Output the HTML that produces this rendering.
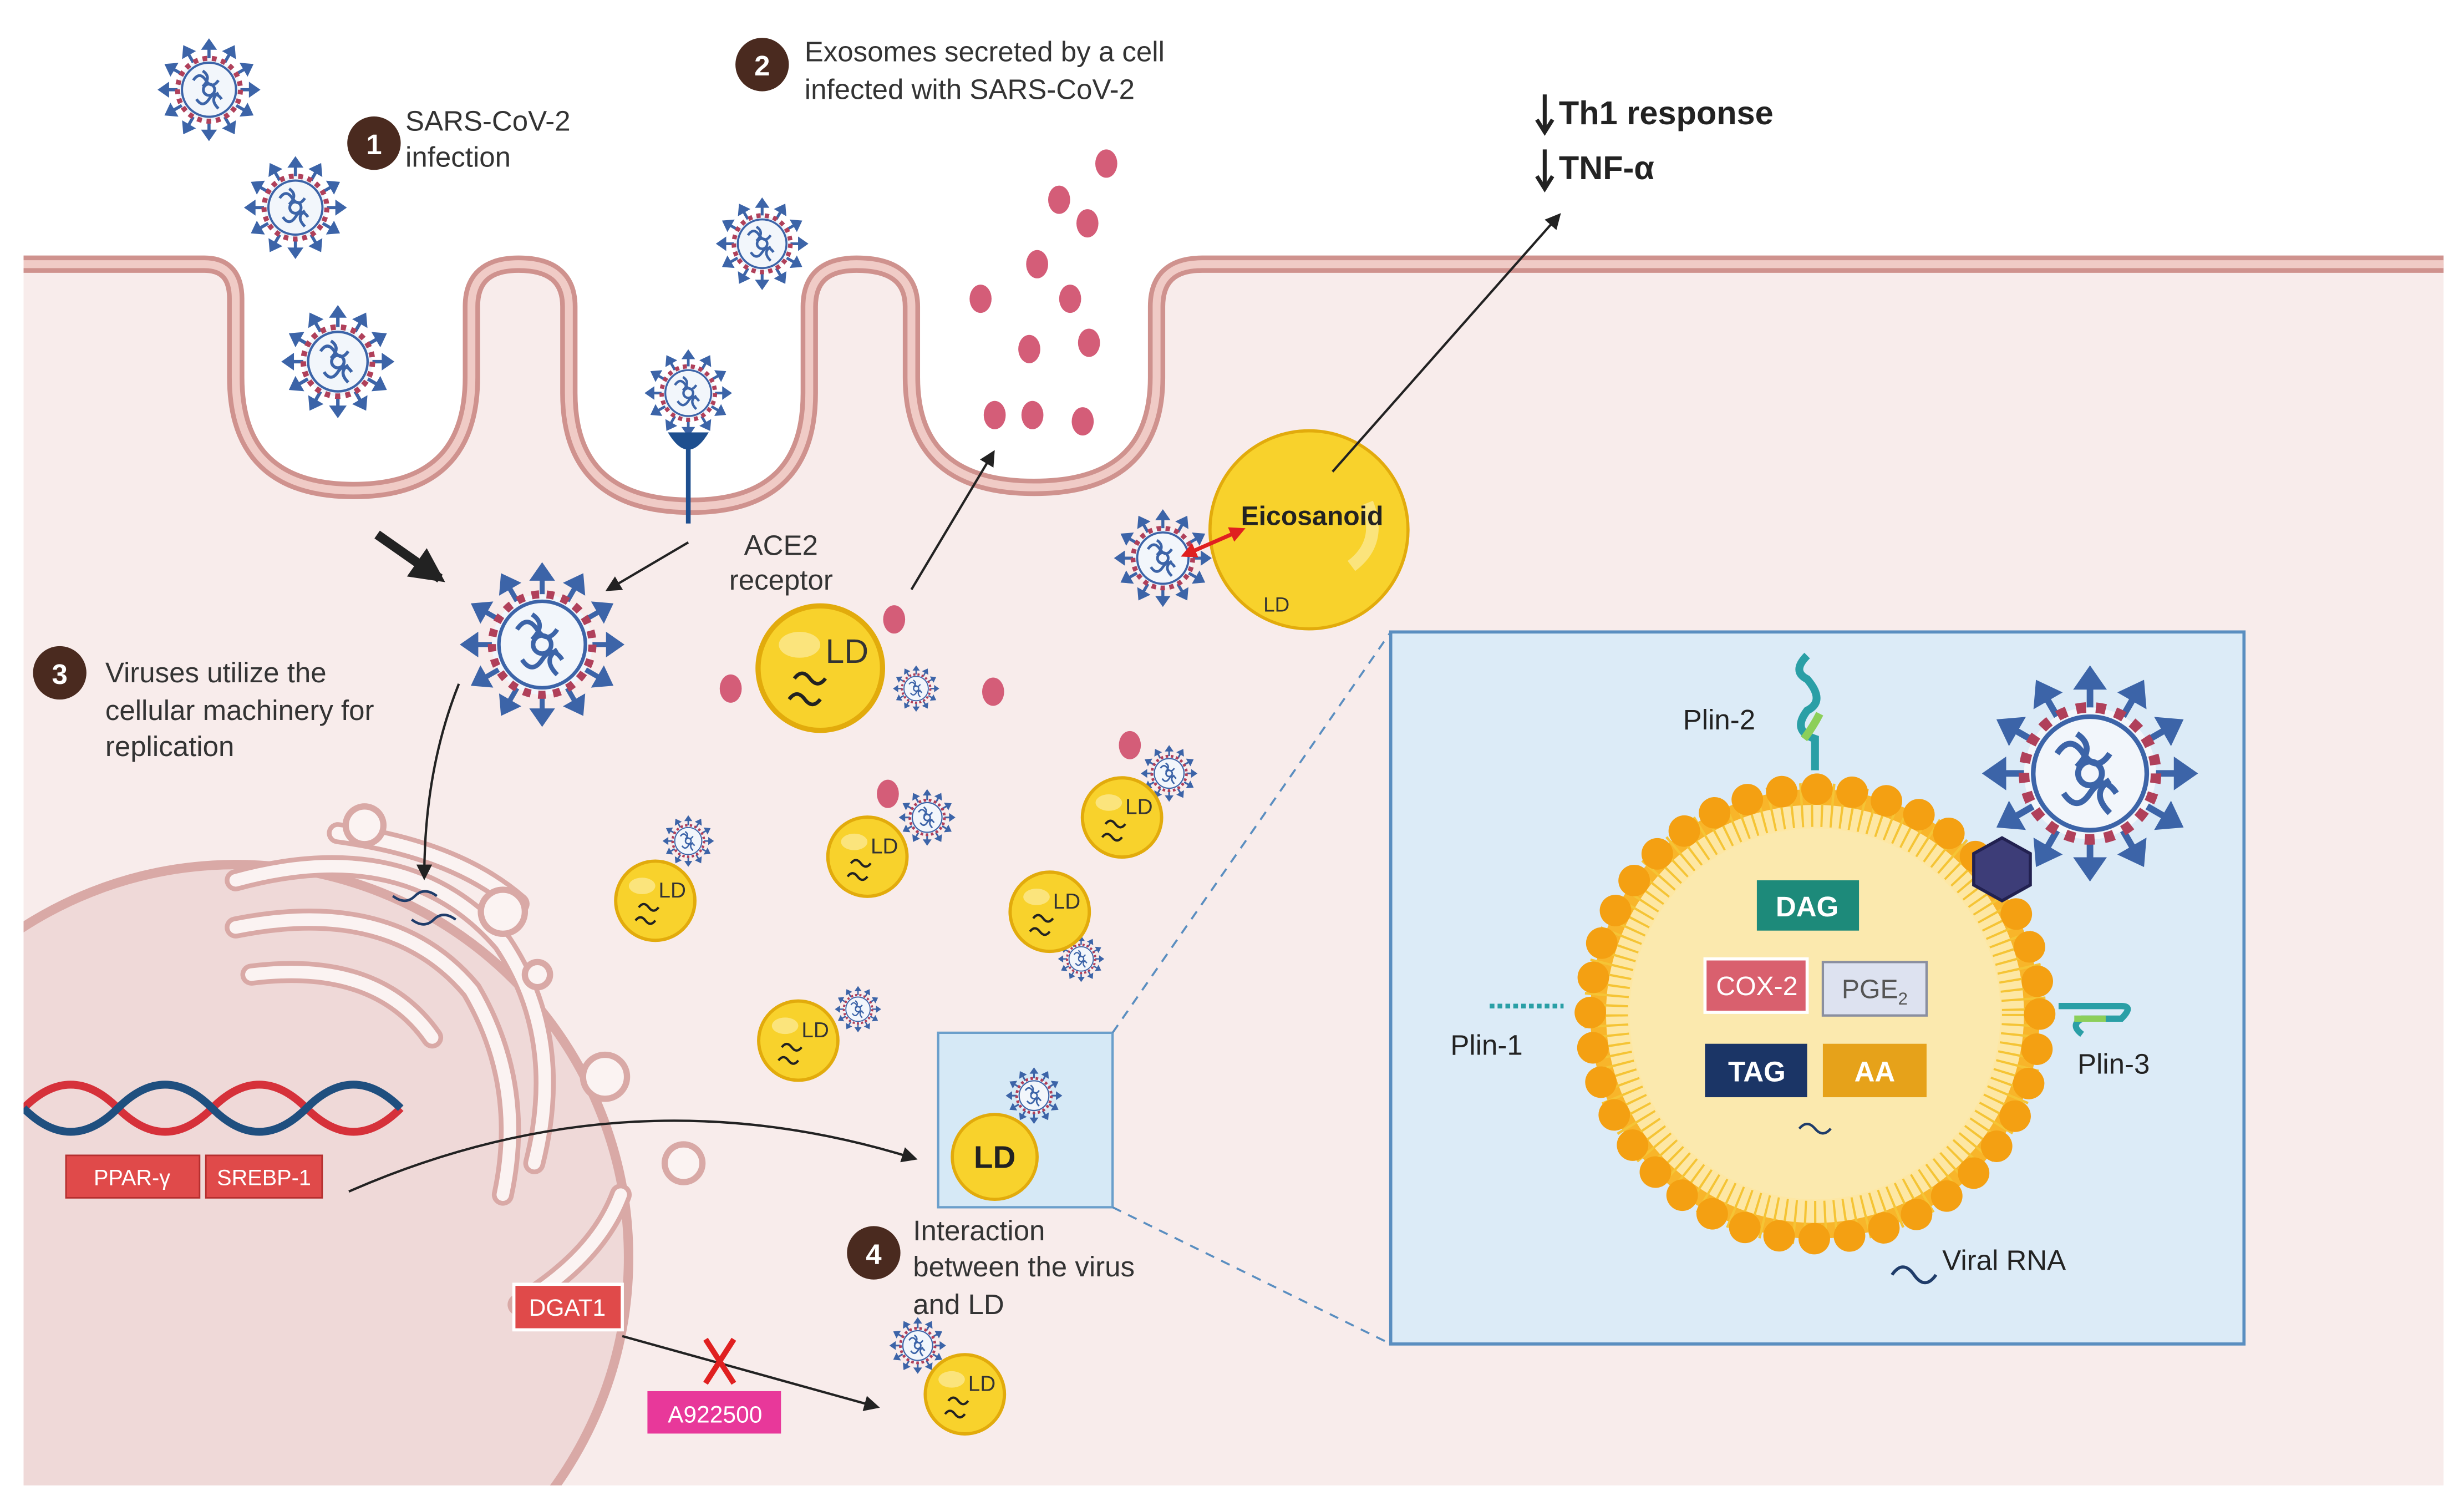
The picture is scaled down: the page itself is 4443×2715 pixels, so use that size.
<!DOCTYPE html>
<html><head><meta charset="utf-8"><style>
html,body{margin:0;padding:0;background:#fff;width:4443px;height:2715px;overflow:hidden;}
svg{display:block;}
text{font-family:"Liberation Sans",sans-serif;}
</style></head><body>
<svg width="4443" height="2715" viewBox="0 0 1568 958" xmlns="http://www.w3.org/2000/svg">
<defs>
<marker id="ah" markerWidth="10" markerHeight="10" refX="8" refY="5" orient="auto" markerUnits="userSpaceOnUse"><path d="M0,0 L10,5 L0,10 Z" fill="#222"/></marker>
<marker id="ahb" markerWidth="22" markerHeight="22" refX="18" refY="11" orient="auto" markerUnits="userSpaceOnUse"><path d="M0,0 L22,11 L0,22 Z" fill="#222"/></marker>
<marker id="ahr" markerWidth="10" markerHeight="10" refX="5" refY="5" orient="auto-start-reverse" markerUnits="userSpaceOnUse"><path d="M0,0 L10,5 L0,10 Z" fill="#e02020"/></marker>
<g id="sp"><line x1="0" y1="-10" x2="0" y2="-13.5"/><path d="M-1.6,-13.2 L0,-15.5 L1.6,-13.2 Z"/></g>
<g id="vir">
  <g fill="#3c64a8" stroke="#3c64a8" stroke-width="1">
    <use href="#sp"/><use href="#sp" transform="rotate(30)"/><use href="#sp" transform="rotate(60)"/><use href="#sp" transform="rotate(90)"/>
    <use href="#sp" transform="rotate(120)"/><use href="#sp" transform="rotate(150)"/><use href="#sp" transform="rotate(180)"/><use href="#sp" transform="rotate(210)"/>
    <use href="#sp" transform="rotate(240)"/><use href="#sp" transform="rotate(270)"/><use href="#sp" transform="rotate(300)"/><use href="#sp" transform="rotate(330)"/>
  </g>
  <circle r="10" fill="#f2f6fb" stroke="#b0405a" stroke-width="1.6" stroke-dasharray="1.5 1.5"/>
  <circle r="8.6" fill="none" stroke="#3c64a8" stroke-width="0.7"/>
  <g fill="none" stroke="#3c64a8" stroke-width="0.9">
    <path d="M-5,-3 q2,-3 4,0 t4,0"/><path d="M-4,3 q2,3 4,0 t4,0"/><path d="M-2,-6 q3,2 0,5"/><path d="M3,1 q-3,2 0,5"/><circle r="1.8"/>
  </g>
</g>
<g id="ld">
  <circle r="24" fill="#f8d22c" stroke="#e2ab0c" stroke-width="2"/>
  <ellipse cx="-8" cy="-9" rx="8" ry="5" fill="#fbe47c"/>
  <text x="2" y="-2" font-size="13" fill="#333">LD</text>
  <path d="M-10,4 q3,-4 6,0 t6,0 M-12,12 q3,-4 6,0 t6,0" fill="none" stroke="#222" stroke-width="1.4"/>
</g>
</defs>

<path d="M15,168 H130 Q150,168 150,190 V240 Q150,312 225,312 Q300,312 300,240 V195 Q300,168 330,168 Q362,168 362,195 V250 Q362,322 440,322 Q515,322 515,250 V195 Q515,168 545,168 Q580,168 580,195 V240 Q580,310 658,310 Q736,310 736,240 V195 Q736,168 765,168 H1555 V945 H15 Z" fill="#f8eceb"/>
<path d="M15,168 H130 Q150,168 150,190 V240 Q150,312 225,312 Q300,312 300,240 V195 Q300,168 330,168 Q362,168 362,195 V250 Q362,322 440,322 Q515,322 515,250 V195 Q515,168 545,168 Q580,168 580,195 V240 Q580,310 658,310 Q736,310 736,240 V195 Q736,168 765,168 H1555" fill="none" stroke="#cf928e" stroke-width="11"/>
<path d="M15,168 H130 Q150,168 150,190 V240 Q150,312 225,312 Q300,312 300,240 V195 Q300,168 330,168 Q362,168 362,195 V250 Q362,322 440,322 Q515,322 515,250 V195 Q515,168 545,168 Q580,168 580,195 V240 Q580,310 658,310 Q736,310 736,240 V195 Q736,168 765,168 H1555" fill="none" stroke="#f0cbc6" stroke-width="5"/>

<clipPath id="cc"><rect x="15" y="170" width="1540" height="775"/></clipPath>
<g clip-path="url(#cc)">
<circle cx="150" cy="800" r="250" fill="#efd9d8" stroke="#d9a9a6" stroke-width="6"/>
<g fill="none" stroke="#d9a9a6" stroke-width="14" stroke-linecap="round">
<path d="M150,560 Q260,530 320,600 Q360,660 340,740"/>
<path d="M150,590 Q250,570 300,630 Q335,690 320,760"/>
<path d="M160,620 Q240,610 275,660"/>
<path d="M215,530 Q290,540 330,575"/>
<path d="M330,830 Q380,800 395,760"/>
</g>
<g fill="none" stroke="#fbf3f2" stroke-width="8" stroke-linecap="round">
<path d="M150,560 Q260,530 320,600 Q360,660 340,740"/>
<path d="M150,590 Q250,570 300,630 Q335,690 320,760"/>
<path d="M160,620 Q240,610 275,660"/>
<path d="M215,530 Q290,540 330,575"/>
<path d="M330,830 Q380,800 395,760"/>
</g>
<g fill="#fbf3f2" stroke="#d9a9a6" stroke-width="4">
<circle cx="232" cy="525" r="12"/><circle cx="320" cy="580" r="14"/><circle cx="385" cy="685" r="14"/><circle cx="435" cy="740" r="12"/><circle cx="342" cy="620" r="8"/>
</g>
<path d="M15,705 q30,-30 60,0 t60,0 t60,0 t60,0" fill="none" stroke="#d6313a" stroke-width="5"/>
<path d="M15,705 q30,30 60,0 t60,0 t60,0 t60,0" fill="none" stroke="#1f4f7f" stroke-width="5"/>
</g>
<path d="M250,570 q8,6 14,0 t14,0 M262,585 q8,6 14,0 t14,0" fill="none" stroke="#1f3c6a" stroke-width="1.6"/>

<rect x="42" y="735" width="85" height="27" fill="#e04a4a" stroke="#b52f2f"/>
<text x="84" y="754" font-size="14" fill="#fff" text-anchor="middle">PPAR-γ</text>
<rect x="131" y="735" width="74" height="27" fill="#e04a4a" stroke="#b52f2f"/>
<text x="168" y="754" font-size="14" fill="#fff" text-anchor="middle">SREBP-1</text>
<rect x="327" y="817" width="69" height="29" fill="#e04a4a" stroke="#fff" stroke-width="2"/>
<text x="361" y="837" font-size="15" fill="#fff" text-anchor="middle">DGAT1</text>
<rect x="412" y="885" width="85" height="27" fill="#e8389a"/>
<text x="455" y="905" font-size="15" fill="#fff" text-anchor="middle">A922500</text>

<g fill="#d45d78">
<ellipse cx="704" cy="104" rx="7" ry="9"/><ellipse cx="674" cy="127" rx="7" ry="9"/><ellipse cx="692" cy="142" rx="7" ry="9"/>
<ellipse cx="660" cy="168" rx="7" ry="9"/><ellipse cx="624" cy="190" rx="7" ry="9"/><ellipse cx="681" cy="190" rx="7" ry="9"/>
<ellipse cx="655" cy="222" rx="7" ry="9"/><ellipse cx="693" cy="218" rx="7" ry="9"/><ellipse cx="633" cy="264" rx="7" ry="9"/>
<ellipse cx="657" cy="264" rx="7" ry="9"/><ellipse cx="689" cy="268" rx="7" ry="9"/>
<ellipse cx="569" cy="394" rx="7" ry="9"/><ellipse cx="465" cy="438" rx="7" ry="9"/><ellipse cx="632" cy="440" rx="7" ry="9"/>
<ellipse cx="719" cy="474" rx="7" ry="9"/><ellipse cx="565" cy="505" rx="7" ry="9"/>
</g>

<use href="#vir" transform="translate(133,57) scale(2)"/>
<use href="#vir" transform="translate(188,132) scale(2)"/>
<use href="#vir" transform="translate(215,230) scale(2.2)"/>
<use href="#vir" transform="translate(485,155) scale(1.8)"/>
<use href="#vir" transform="translate(438,250) scale(1.7)"/>
<use href="#vir" transform="translate(345,410) scale(3.2)"/>
<use href="#vir" transform="translate(740,355) scale(1.9)"/>
<use href="#vir" transform="translate(583,438) scale(0.9)"/>
<use href="#vir" transform="translate(744,492) scale(1.1)"/>
<use href="#vir" transform="translate(590,520) scale(1.1)"/>
<use href="#vir" transform="translate(438,535) scale(1)"/>
<use href="#vir" transform="translate(688,610) scale(0.9)"/>
<use href="#vir" transform="translate(546,642) scale(0.9)"/>
<use href="#vir" transform="translate(584,856) scale(1.1)"/>
<line x1="438" y1="285" x2="438" y2="333" stroke="#1e4f8f" stroke-width="3"/>
<path d="M425,275 q13,22 26,0 z" fill="#1e4f8f"/>

<g transform="translate(522,425) scale(1.65)"><use href="#ld"/></g>
<use href="#ld" transform="translate(552,545) scale(1.05)"/>
<use href="#ld" transform="translate(417,573) scale(1.05)"/>
<use href="#ld" transform="translate(714,520) scale(1.05)"/>
<use href="#ld" transform="translate(668,580) scale(1.05)"/>
<use href="#ld" transform="translate(508,662) scale(1.05)"/>
<use href="#ld" transform="translate(614,887) scale(1.05)"/>
<circle cx="833" cy="337" r="63" fill="#f8d22c" stroke="#e2ab0c" stroke-width="2"/>
<path d="M860,360 q20,-15 10,-40" fill="none" stroke="#fbe47c" stroke-width="8"/>
<text x="835" y="334" font-size="17" fill="#222" text-anchor="middle" font-weight="bold">Eicosanoid</text>
<text x="804" y="389" font-size="13" fill="#333">LD</text>
<line x1="756" y1="352" x2="788" y2="338" stroke="#e02020" stroke-width="2.5" marker-start="url(#ahr)" marker-end="url(#ahr)"/>

<rect x="597" y="657" width="111" height="111" fill="#d6e9f6" stroke="#6b9fcb" stroke-width="1.5"/>
<circle cx="633" cy="736" r="27" fill="#f8d22c" stroke="#e2ab0c" stroke-width="2"/>
<text x="633" y="743" font-size="20" font-weight="bold" fill="#222" text-anchor="middle">LD</text>
<use href="#vir" transform="translate(658,697) scale(1.1)"/>
<line x1="708" y1="657" x2="885" y2="402" stroke="#5a8ec0" stroke-width="1.3" stroke-dasharray="6 5"/>
<line x1="708" y1="768" x2="885" y2="855" stroke="#5a8ec0" stroke-width="1.3" stroke-dasharray="6 5"/>

<line x1="240" y1="340" x2="280" y2="368" stroke="#222" stroke-width="6" marker-end="url(#ahb)"/>
<line x1="438" y1="345" x2="387" y2="375" stroke="#222" stroke-width="1.5" marker-end="url(#ah)"/>
<line x1="580" y1="375" x2="632" y2="288" stroke="#222" stroke-width="1.5" marker-end="url(#ah)"/>
<line x1="848" y1="300" x2="992" y2="137" stroke="#222" stroke-width="1.5" marker-end="url(#ah)"/>
<path d="M292,435 Q270,490 270,558" fill="none" stroke="#222" stroke-width="1.5" marker-end="url(#ah)"/>
<path d="M222,758 Q400,680 582,737" fill="none" stroke="#222" stroke-width="1.5" marker-end="url(#ah)"/>
<line x1="396" y1="850" x2="558" y2="895" stroke="#222" stroke-width="1.5" marker-end="url(#ah)"/>
<path d="M449,852 L467,880 M467,852 L449,880" stroke="#e02020" stroke-width="3.5"/>

<g font-size="18" fill="#333">
<circle cx="238" cy="91" r="17" fill="#4a2a1f"/><text x="238" y="98" fill="#fff" text-anchor="middle" font-size="18" font-weight="bold">1</text>
<text x="258" y="83">SARS-CoV-2</text><text x="258" y="106">infection</text>
<circle cx="485" cy="41" r="17" fill="#4a2a1f"/><text x="485" y="48" fill="#fff" text-anchor="middle" font-weight="bold">2</text>
<text x="512" y="39">Exosomes secreted by a cell</text><text x="512" y="63">infected with SARS-CoV-2</text>
<circle cx="38" cy="428" r="17" fill="#4a2a1f"/><text x="38" y="435" fill="#fff" text-anchor="middle" font-weight="bold">3</text>
<text x="67" y="434">Viruses utilize the</text><text x="67" y="458">cellular machinery for</text><text x="67" y="481">replication</text>
<circle cx="556" cy="797" r="17" fill="#4a2a1f"/><text x="556" y="804" fill="#fff" text-anchor="middle" font-weight="bold">4</text>
<text x="581" y="789">Interaction</text><text x="581" y="812">between the virus</text><text x="581" y="836">and LD</text>
<text x="497" y="353" text-anchor="middle">ACE2</text><text x="497" y="375" text-anchor="middle">receptor</text>
</g>
<g font-size="21" fill="#222" font-weight="bold">
<text x="992" y="79">Th1 response</text><text x="992" y="114">TNF-α</text>
</g>
<path d="M983,60 V82 M978,76 L983,84 L988,76 M983,95 V118 M978,112 L983,120 L988,112" fill="none" stroke="#222" stroke-width="2.5"/>

<rect x="885" y="402" width="543" height="453" fill="#dcebf7" stroke="#5a8ec0" stroke-width="2"/>
<circle cx="1155" cy="645" r="143" fill="#f8b52a"/>
<circle cx="1155" cy="645" r="133" fill="#fde7a4"/>
<circle cx="1155" cy="645" r="118" fill="#fbe9ae"/>
<circle cx="1155" cy="645" r="133" fill="none" stroke="#f5c435" stroke-width="28" stroke-dasharray="1.5 5"/>
<circle cx="1155" cy="645" r="143" fill="none" stroke="#f4a012" stroke-width="20" stroke-dasharray="0.1 22.4" stroke-linecap="round"/>
<use href="#vir" transform="translate(1330,492) scale(4.2)"/>
<polygon points="1274,533 1292,543 1292,563 1274,573 1256,563 1256,543" fill="#3d3d78" stroke="#222150" stroke-width="2"/>
<path d="M1155,490 V470 q-15,-5 -5,-18 q12,-6 0,-20 q-10,-5 0,-15" fill="none" stroke="#2a9fa6" stroke-width="5"/>
<path d="M1148,470 q6,-8 10,-16" stroke="#8ccf5a" stroke-width="5" fill="none"/>
<line x1="948" y1="640" x2="995" y2="640" stroke="#2a9fa6" stroke-width="3" stroke-dasharray="3 2"/>
<path d="M1310,640 h40 q8,0 0,8 h-25 q-8,4 0,10" fill="none" stroke="#2a9fa6" stroke-width="4"/>
<path d="M1320,648 h20" stroke="#8ccf5a" stroke-width="4"/>
<g font-size="18" fill="#222">
<text x="1071" y="464">Plin-2</text>
<text x="923" y="671">Plin-1</text>
<text x="1322" y="683">Plin-3</text>
<text x="1236" y="808">Viral RNA</text>
</g>
<path d="M1204,811 q7,-10 14,0 t14,0" fill="none" stroke="#1f3c6a" stroke-width="2"/>
<rect x="1118" y="560" width="65" height="32" fill="#1d8a7a"/>
<text x="1150" y="583" font-size="18" fill="#fff" text-anchor="middle" font-weight="bold">DAG</text>
<rect x="1085" y="610" width="65" height="34" fill="#d9606e" stroke="#fff" stroke-width="2"/>
<text x="1118" y="633" font-size="17" fill="#fff" text-anchor="middle">COX-2</text>
<rect x="1160" y="612" width="66" height="34" fill="#dde2f0" stroke="#8a8fa0" stroke-width="1.5"/>
<text x="1193" y="635" font-size="17" fill="#555" text-anchor="middle">PGE<tspan font-size="11" dy="4">2</tspan></text>
<rect x="1085" y="664" width="65" height="34" fill="#1b3566"/>
<text x="1118" y="688" font-size="18" fill="#fff" text-anchor="middle" font-weight="bold">TAG</text>
<rect x="1160" y="664" width="66" height="34" fill="#e6a21a"/>
<text x="1193" y="688" font-size="18" fill="#fff" text-anchor="middle" font-weight="bold">AA</text>
<path d="M1145,718 q5,-6 10,0 t10,0" fill="none" stroke="#1f3c6a" stroke-width="1.6"/>
</svg>
</body></html>
